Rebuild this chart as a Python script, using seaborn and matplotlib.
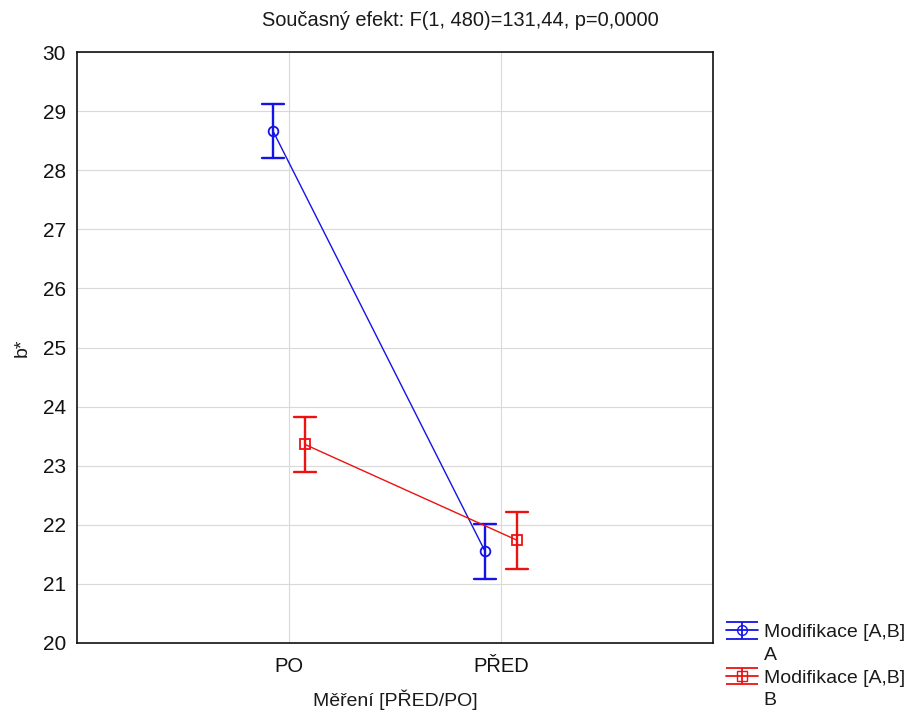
import numpy as np
import pandas as pd
import seaborn as sns
import matplotlib
matplotlib.use("Agg")
import matplotlib.pyplot as plt
from matplotlib.lines import Line2D
from matplotlib.legend_handler import HandlerErrorbar

# Data
categories = ["PO", "PŘED"]
groups = ["A", "B"]
legend_title = "Modifikace [A,B]"
mean_A = [28.66, 21.55]
low_A = [28.20, 21.09]
high_A = [29.12, 22.01]
mean_B = [23.36, 21.74]
low_B = [22.90, 21.25]
high_B = [23.82, 22.22]
yticks = [20, 21, 22, 23, 24, 25, 26, 27, 28, 29, 30]

rows = []
for g, m, lo, hi in [(groups[0], mean_A, low_A, high_A), (groups[1], mean_B, low_B, high_B)]:
    for c, mv, lv, hv in zip(categories, m, lo, hi):
        for v in (lv, mv, hv):
            rows.append({"mereni": c, "b": v, "mod": g})
df = pd.DataFrame(rows)

sns.set_style("white")
plt.rcParams["font.family"] = ["Liberation Sans", "DejaVu Sans"]
plt.rcParams["text.color"] = "#1a1a1a"
plt.rcParams["axes.labelcolor"] = "#1a1a1a"

fig = plt.figure(figsize=(9.13, 7.10), dpi=100)
ax = fig.add_axes([77/913, 1-643/710, (713-77)/913, (643-52)/710])

colors = ["#1414e6", "#ee1111"]
sns.pointplot(data=df, x="mereni", y="b", hue="mod", order=categories, hue_order=groups,
              estimator="median", errorbar=("pi", 100), dodge=0.15,
              markers=["o", "s"], linestyles=["-", "-"], palette=colors,
              capsize=0.105, linewidth=1.0, err_kws={"linewidth": 1.7},
              markersize=7, legend=False, ax=ax)

for ln in ax.lines:
    if ln.get_marker() not in (None, "None", ""):
        ln.set_markerfacecolor("none")
        ln.set_markeredgewidth(1.3)

ax.set_xlim(-1, 2)
ax.set_ylim(20, 30)
ax.set_yticks(yticks)
ax.grid(True, color="#d9d9d9", linewidth=0.8)
ax.set_axisbelow(True)
for s in ax.spines.values():
    s.set_color("#111111")
    s.set_linewidth(1.2)
ax.tick_params(axis="y", direction="in", length=4, labelsize=15, colors="#111111", pad=8)
ax.tick_params(axis="x", direction="in", length=4, labelsize=14.5, colors="#111111", pad=10)
ax.set_xlabel("Měření [PŘED/PO]", fontsize=14)
ax.xaxis.set_label_coords(0.5, (643-689)/591)
ax.set_ylabel("b*", fontsize=14)
ax.yaxis.set_label_coords((31-77)/636, 0.5)

fig.text(460/913, 1-20/710, "Současný efekt: F(1, 480)=131,44, p=0,0000",
         ha="center", va="center", fontsize=14.4)

handles = []
labels = []
for col, mk, g in zip(colors, ["o", "s"], groups):
    h = ax.errorbar([np.nan], [np.nan], yerr=[[1], [1]], color=col, marker=mk, mfc="none",
                    ms=7, capsize=11.5, lw=1.3, elinewidth=1.3, capthick=1.3)
    handles.append(h)
    labels.append(legend_title)
    handles.append(Line2D([], [], linestyle="none", marker=None))
    labels.append(g)
leg = fig.legend(handles, labels, loc="lower left", bbox_to_anchor=(712/913, -0.018),
                 frameon=False, fontsize=14, handlelength=1.65, handletextpad=0.3,
                 labelspacing=0.26, borderpad=0.2,
                 handler_map={type(handles[0]): HandlerErrorbar(xerr_size=0.42)})

fig.savefig("out.png", dpi=100)
